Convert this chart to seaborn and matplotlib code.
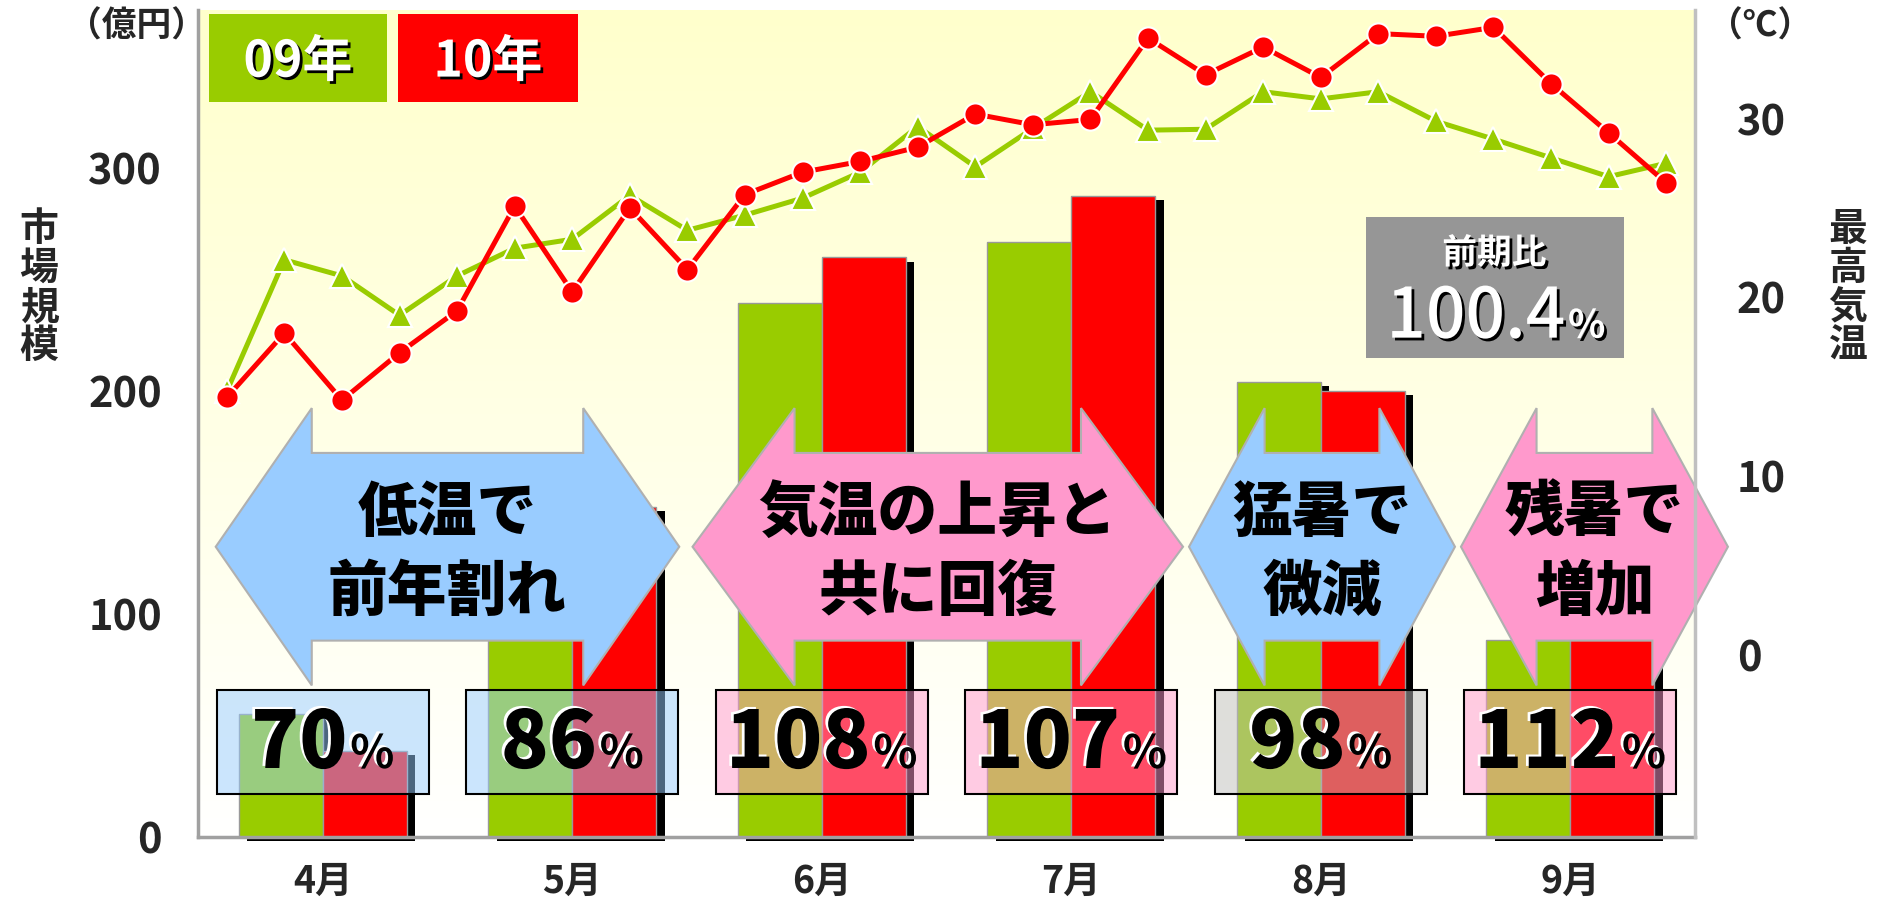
import matplotlib
matplotlib.use("Agg")
import matplotlib.pyplot as plt
import matplotlib.patheffects as pe
from matplotlib.patches import Polygon, Rectangle
from matplotlib.offsetbox import TextArea, HPacker, AnnotationBbox
import numpy as np
import pandas as pd
import seaborn as sns

# ---------------- data ----------------
months = ["4月", "5月", "6月", "7月", "8月", "9月"]
years = ["09年", "10年"]
market_09 = [55, 172, 239.5, 267, 204, 88.5]     # 億円
market_10 = [38.5, 148, 260, 287.5, 200, 99]     # 億円
ratio_labels = ["70", "86", "108", "107", "98", "112"]
ratio_box_kind = ["blue", "blue", "pink", "pink", "gray", "pink"]

temp_09 = [14.75, 22.1, 21.2, 19.0, 21.2, 22.75, 23.25, 25.7, 23.75, 24.6, 25.55, 27.0, 29.55,
           27.3, 29.45, 31.5, 29.35, 29.4, 31.5, 31.1, 31.5, 29.85, 28.85, 27.8, 26.75, 27.5]
temp_10 = [14.4, 18.0, 14.25, 16.9, 19.25, 25.1, 20.3, 25.0, 21.55, 25.75, 27.0, 27.6, 28.4,
           30.25, 29.65, 29.95, 34.5, 32.45, 34.0, 32.3, 34.75, 34.6, 35.1, 31.95, 29.2, 26.4]

left_ticks = [0, 100, 200, 300]
right_ticks = [0, 10, 20, 30]

arrow_lines = [("低温で", "前年割れ"), ("気温の上昇と", "共に回復"), ("猛暑で", "微減"), ("残暑で", "増加")]
arrow_kind = ["blue", "pink", "blue", "pink"]
arrow_center = [0.5, 2.465, 4.005, 5.097]
arrow_halfwidth = [0.929, 0.983, 0.533, 0.535]
arrow_headlen = [0.385, 0.409, 0.303, 0.303]

total_ratio = "100.4"

GREEN = "#99CC00"
RED = "#FF0000"
BLUE = "#99CCFF"
PINK = "#FF99CC"
fills = {"blue": (0.6, 0.8, 1.0, 0.5), "pink": (1.0, 0.6, 0.8, 0.5), "gray": (0.75, 0.75, 0.75, 0.5)}
arrow_fill = {"blue": BLUE, "pink": PINK}

# ---------------- style ----------------
sns.set_style("white")
plt.rcParams["font.family"] = ["Noto Sans CJK JP", "DejaVu Sans"]
plt.rcParams["font.weight"] = "bold"

fig = plt.figure(figsize=(18.84, 9.02), dpi=100)
pos = [198 / 1884, 1 - 837 / 902, (1695 - 198) / 1884, (837 - 10) / 902]

# background gradient
bg = fig.add_axes(pos)
t = np.linspace(0, 1, 256)
grad = np.ones((256, 1, 3))
grad[:, 0, 2] = 0.8 + 0.2 * t
bg.imshow(grad, aspect="auto", extent=[0, 1, 0, 1])
bg.axis("off")

# ---------------- bars ----------------
ax = fig.add_axes(pos)
ax.set_facecolor("none")
df = pd.DataFrame({
    "month": months * 2,
    "year": [years[0]] * 6 + [years[1]] * 6,
    "value": market_09 + market_10,
})
sns.barplot(data=df, x="month", y="value", hue="year", order=months, hue_order=years,
            palette={years[0]: GREEN, years[1]: RED}, saturation=1, width=0.674, gap=0,
            edgecolor="#999999", linewidth=1, errorbar=None, legend=False, ax=ax)
for p in list(ax.patches):
    p.set_path_effects([pe.SimplePatchShadow(offset=(6, -3), shadow_rgbFace="black", alpha=1.0), pe.Normal()])
    p.set_clip_on(False)
    p.set_zorder(2)

ax.set_xlim(-0.5, 5.5)
ax.set_ylim(0, 371)
ax.set_yticks(left_ticks)
ax.set_xlabel("")
ax.set_ylabel("")
ax.tick_params(axis="y", labelsize=30, length=0, pad=26)
ax.tick_params(axis="x", labelsize=27, length=0, pad=18)
for s in ["top", "right"]:
    ax.spines[s].set_visible(False)
for s in ["left", "bottom"]:
    ax.spines[s].set_color("#A0A0A0")
    ax.spines[s].set_linewidth(2.5)

# ---------------- arrows ----------------
y_c, sh, hh = 130.2, 42.1, 62.2
for (l1, l2), kind, c, hw, hl in zip(arrow_lines, arrow_kind, arrow_center, arrow_halfwidth, arrow_headlen):
    xl, xr = c - hw, c + hw
    bl, br = xl + hl, xr - hl
    pts = [(xl, y_c), (bl, y_c + hh), (bl, y_c + sh), (br, y_c + sh), (br, y_c + hh), (xr, y_c),
           (br, y_c - hh), (br, y_c - sh), (bl, y_c - sh), (bl, y_c - hh)]
    ax.add_patch(Polygon(pts, closed=True, facecolor=arrow_fill[kind], edgecolor="#B0B0B0",
                         linewidth=1.5, zorder=5, clip_on=False))
    ax.text(c, 145.5, l1, ha="center", va="center", fontsize=43, fontweight="heavy", color="black", zorder=6)
    ax.text(c, 110.0, l2, ha="center", va="center", fontsize=43, fontweight="heavy", color="black", zorder=6)

# ---------------- ratio boxes ----------------
white_shadow = [pe.withSimplePatchShadow(offset=(-2, 1.5), shadow_rgbFace="white", alpha=1.0)]
for i, (lab, kind) in enumerate(zip(ratio_labels, ratio_box_kind)):
    ax.add_patch(Rectangle((i - 0.425, 19.3), 0.85, 46.7, facecolor=fills[kind], edgecolor="black",
                           linewidth=1.5, zorder=6))
    pack = HPacker(children=[
        TextArea(lab, textprops=dict(fontsize=57, fontweight="heavy", color="black", path_effects=white_shadow)),
        TextArea("%", textprops=dict(fontsize=33, fontweight="bold", color="black", path_effects=white_shadow)),
    ], align="baseline", pad=0, sep=2)
    ab = AnnotationBbox(pack, (i, 41.5), xycoords="data", frameon=False, box_alignment=(0.5, 0.5),
                        pad=0, zorder=7, annotation_clip=False)
    ax.add_artist(ab)

# ---------------- legend boxes ----------------
black_shadow = [pe.withSimplePatchShadow(offset=(2, -2), shadow_rgbFace="black", alpha=1.0)]
for (x0, x1), col, yr in zip([(0.0073, 0.1263), (0.1336, 0.2538)], [GREEN, RED], years):
    ax.add_patch(Rectangle((x0, 0.8888), x1 - x0, 0.1064, transform=ax.transAxes,
                           facecolor=col, edgecolor="none", zorder=6))
    ax.text((x0 + x1) / 2, 0.937, yr, transform=ax.transAxes, ha="center", va="center",
            fontsize=36, fontweight="bold", color="white", path_effects=black_shadow, zorder=7)

# 前期比 box
ax.add_patch(Rectangle((0.780, 0.579), 0.1726, 0.171, transform=ax.transAxes,
                       facecolor="#969696", edgecolor="none", zorder=6))
ax.text(0.866, 0.706, "前期比", transform=ax.transAxes, ha="center", va="center", fontsize=25,
        fontweight="bold", color="white", path_effects=black_shadow, zorder=7)
pack = HPacker(children=[
    TextArea(total_ratio, textprops=dict(fontsize=50, fontweight="medium", color="white", path_effects=black_shadow)),
    TextArea("%", textprops=dict(fontsize=28, fontweight="bold", color="white", path_effects=black_shadow)),
], align="baseline", pad=0, sep=2)
ax.add_artist(AnnotationBbox(pack, (0.867, 0.628), xycoords="axes fraction", frameon=False,
                             box_alignment=(0.5, 0.5), pad=0, zorder=7))

# ---------------- temperature lines ----------------
ax2 = fig.add_axes(pos)
ax2.set_facecolor("none")
weeks = np.arange(len(temp_09))
sns.lineplot(x=weeks, y=temp_09, ax=ax2, color=GREEN, linewidth=3.6, marker="^", markersize=17,
             markeredgecolor="white", markeredgewidth=1.5)
sns.lineplot(x=weeks, y=temp_10, ax=ax2, color=RED, linewidth=3.6, marker="o", markersize=16,
             markeredgecolor="white", markeredgewidth=1.5)
ax2.set_xlim(-0.5, len(temp_09) - 0.5)
ax2.set_ylim(-10.18, 36.07)
ax2.set_xticks([])
ax2.set_xlabel("")
ax2.set_ylabel("")
ax2.yaxis.tick_right()
ax2.set_yticks(right_ticks)
ax2.tick_params(axis="y", labelsize=30, length=0, pad=30)
for s in ["top", "left", "bottom"]:
    ax2.spines[s].set_visible(False)
ax2.spines["right"].set_color("#C0C0C0")
ax2.spines["right"].set_linewidth(2.5)

# ---------------- outer labels ----------------
fig.text(0.0727, 0.9712, "（億円）", ha="center", va="center", fontsize=25, fontweight="bold")
fig.text(0.9342, 0.9712, "（℃）", ha="center", va="center", fontsize=25, fontweight="bold")
fig.text(0.0207, 0.6807, "市\n場\n規\n模", ha="center", va="center", fontsize=28, fontweight="bold",
         linespacing=1.0)
fig.text(0.9809, 0.6807, "最\n高\n気\n温", ha="center", va="center", fontsize=28, fontweight="bold",
         linespacing=1.0)

fig.savefig("out.png", dpi=100)
